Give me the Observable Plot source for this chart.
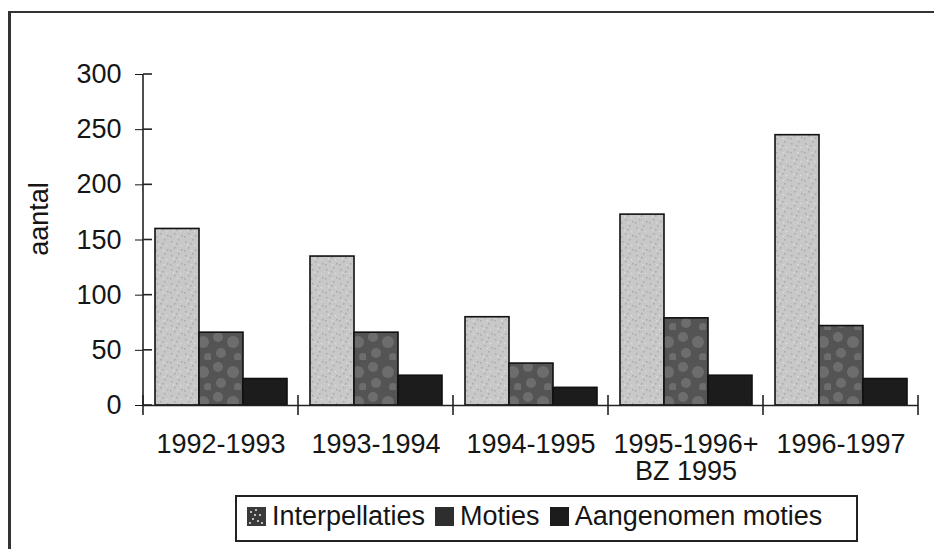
<!DOCTYPE html>
<html>
<head>
<meta charset="utf-8">
<script src="https://cdn.jsdelivr.net/npm/d3@7"></script>
<script src="https://cdn.jsdelivr.net/npm/@observablehq/plot@0.6"></script>
<style>
  body { margin: 0; background: #fff; }
  #wrap { position: relative; width: 934px; height: 549px; overflow: hidden;
          font-family: "Liberation Sans", Arial, sans-serif; color: #151515; background: #fff; }
  #frame { position: absolute; left: 8px; top: 11px; right: -20px; bottom: -20px;
           border-left: 3px solid #333; border-top: 2px solid #333; }
  #chart { position: absolute; left: 0; top: 0; }
  #legend { position: absolute; left: 235px; top: 495px; width: 619px; height: 39px; padding-bottom: 4px;
            border: 2px solid #222; display: flex; align-items: center; box-sizing: content-box;
            font-size: 27px; white-space: nowrap; }
  #legend .item { display: flex; align-items: center; margin-left: 10px; }
  #legend .sw { width: 19px; height: 19px; margin-right: 6px; display: inline-block; }
</style>
</head>
<body>
<div id="wrap">
  <div id="frame"></div>
  <div id="chart"></div>
  <div id="legend"></div>
</div>
<script>
const categories = ["1992-1993", "1993-1994", "1994-1995", "1995-1996+\nBZ 1995", "1996-1997"];
const series = ["Interpellaties", "Moties", "Aangenomen moties"];
const interpellaties = [160, 135, 80, 173, 245];
const moties = [66, 66, 38, 79, 72];
const aangenomen = [24, 27, 16, 27, 24];
const yTicks = [0, 50, 100, 150, 200, 250, 300];
const yLabel = "aantal";

const barFills = ["url(#pInt)", "url(#pMot)", "#1c1c1c"];
const swatchFills = ["url(#pIntSw)", "#2e2e2e", "#1c1c1c"];

const valuesBySeries = [interpellaties, moties, aangenomen];
const rows = [];
categories.forEach((c, i) => {
  series.forEach((s, j) => rows.push({period: c, series: s, value: valuesBySeries[j][i]}));
});

const chart = Plot.plot({
  width: 934,
  height: 494,
  marginTop: 74,
  marginBottom: 89,
  marginLeft: 142,
  marginRight: 15,
  style: {fontFamily: '"Liberation Sans", Arial, sans-serif', fontSize: "27px", color: "#151515", background: "transparent", overflow: "visible"},
  fx: {domain: categories, padding: 0, axis: "bottom", label: null, tickSize: 0, tickPadding: 28},
  x: {domain: series, paddingInner: 0, paddingOuter: 0.25, axis: null},
  y: {domain: [0, 300], ticks: yTicks, tickSize: 8, tickPadding: 14, label: null},
  color: {domain: series, range: barFills},
  marks: [
    Plot.barY(rows, {fx: "period", x: "series", y: "value", fill: "series", stroke: "#111", strokeWidth: 1.6}),
    Plot.ruleY([0], {stroke: "#222", strokeWidth: 1.6})
  ]
});
document.getElementById("chart").appendChild(chart);

const svgNode = chart.tagName.toLowerCase() === "svg" ? chart : chart.querySelector("svg");
const svg = d3.select(svgNode);

// patterns
const defs = svg.insert("defs", ":first-child");
const pInt = defs.append("pattern").attr("id", "pInt").attr("patternUnits", "userSpaceOnUse").attr("width", 14).attr("height", 14);
pInt.append("rect").attr("width", 14).attr("height", 14).attr("fill", "#c8c8c8");
[[2,3],[9,1],[5,9],[12,11],[1,12],[7,5]].forEach(([a,b]) => pInt.append("rect").attr("x", a).attr("y", b).attr("width", 1.5).attr("height", 1.5).attr("fill", "#a9a9a9"));
[[4,6],[11,7],[8,12]].forEach(([a,b]) => pInt.append("rect").attr("x", a).attr("y", b).attr("width", 1.2).attr("height", 1.2).attr("fill", "#e2e2e2"));
const pMot = defs.append("pattern").attr("id", "pMot").attr("patternUnits", "userSpaceOnUse").attr("width", 30).attr("height", 30);
pMot.append("rect").attr("width", 30).attr("height", 30).attr("fill", "#545454");
[[7,7,5],[22,12,6],[10,23,5],[27,27,4]].forEach(([a,b,r]) => pMot.append("circle").attr("cx", a).attr("cy", b).attr("r", r).attr("fill", "#6d6d6d"));

// axes lines & crossing ticks from the library's scales
const fx = chart.scale("fx"), y = chart.scale("y");
const left = fx.apply(categories[0]);
const bounds = categories.map(c => fx.apply(c)).concat([fx.apply(categories[categories.length - 1]) + fx.bandwidth]);
const g = svg.append("g").attr("stroke", "#222").attr("stroke-width", 1.6);
g.append("line").attr("x1", left).attr("x2", left).attr("y1", y.apply(0)).attr("y2", y.apply(300));
yTicks.forEach(t => g.append("line").attr("x1", left).attr("x2", left + 9).attr("y1", y.apply(t)).attr("y2", y.apply(t)));
bounds.forEach(b => g.append("line").attr("x1", b).attr("x2", b).attr("y1", y.apply(0) - 10).attr("y2", y.apply(0) + 10));

svg.append("text").attr("transform", `translate(48,${219}) rotate(-90)`).attr("text-anchor", "middle")
  .attr("fill", "#151515").attr("font-size", 27).text(yLabel);

// legend
const legend = d3.select("#legend");
const swSvg = legend.append("svg").attr("width", 0).attr("height", 0).style("position", "absolute");
const sd = swSvg.append("defs").append("pattern").attr("id", "pIntSw").attr("patternUnits", "userSpaceOnUse").attr("width", 19).attr("height", 19);
sd.append("rect").attr("width", 19).attr("height", 19).attr("fill", "#3a3a3a");
[[3,4],[8,2],[12,7],[5,11],[10,13],[14,15],[2,15],[7,7]].forEach(([a,b]) => sd.append("rect").attr("x", a).attr("y", b).attr("width", 2).attr("height", 2).attr("fill", "#bdbdbd"));
series.forEach((s, i) => {
  const it = legend.append("div").attr("class", "item");
  it.append("svg").attr("class", "sw").attr("width", 19).attr("height", 19)
    .append("rect").attr("width", 19).attr("height", 19).attr("fill", swatchFills[i]);
  it.append("span").text(s);
});
</script>
</body>
</html>
